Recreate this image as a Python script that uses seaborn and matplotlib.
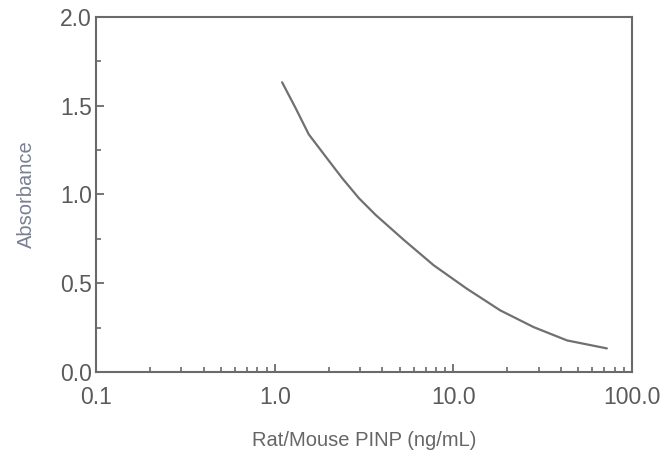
import matplotlib
matplotlib.use("Agg")
import matplotlib.pyplot as plt
import matplotlib.ticker as mticker
import seaborn as sns
import numpy as np
import pandas as pd

# standard curve
conc = [1.10, 1.31, 1.55, 1.93, 2.39, 2.96, 3.67, 5.28, 7.76, 11.9, 18.3, 28.1, 43.2, 72.2]
absorbance = [1.632, 1.486, 1.339, 1.213, 1.091, 0.979, 0.885, 0.744, 0.601, 0.469,
              0.347, 0.253, 0.178, 0.133]

x_ticks = [0.1, 1.0, 10.0, 100.0]
x_labels = ["0.1", "1.0", "10.0", "100.0"]
y_ticks = [0.0, 0.5, 1.0, 1.5, 2.0]
y_labels = ["0.0", "0.5", "1.0", "1.5", "2.0"]

df = pd.DataFrame({"conc": conc, "absorbance": absorbance})

sns.set_style("ticks")
plt.rcParams["font.family"] = ["Liberation Sans", "DejaVu Sans"]

axis_col = "#6a6a6a"
text_col = "#5a5a5a"

fig = plt.figure(figsize=(6.64, 4.54), dpi=100)
ax = fig.add_axes([0.1446, 0.1806, 0.952 - 0.1446, 0.9626 - 0.1806])

sns.lineplot(data=df, x="conc", y="absorbance", ax=ax, color="#707070", linewidth=1.6)

ax.set_xscale("log")
ax.set_xlim(0.1, 100)
ax.set_ylim(0, 2.0)

ax.set_xticks(x_ticks)
ax.set_xticklabels(x_labels)
ax.xaxis.set_minor_locator(mticker.LogLocator(base=10, subs=np.arange(2, 10)))
ax.xaxis.set_minor_formatter(mticker.NullFormatter())
ax.set_yticks(y_ticks)
ax.set_yticklabels(y_labels)
ax.yaxis.set_minor_locator(mticker.MultipleLocator(0.25))

for s in ax.spines.values():
    s.set_color(axis_col)
    s.set_linewidth(1.5)

ax.tick_params(axis="both", which="major", direction="in", length=6, width=1.3,
               color=axis_col, labelsize=16.5, labelcolor=text_col)
ax.tick_params(axis="both", which="minor", direction="in", length=3.5, width=1.2,
               color=axis_col)
ax.tick_params(axis="x", which="major", pad=10)
ax.tick_params(axis="y", which="major", pad=3)

ax.set_xlabel("Rat/Mouse PINP (ng/mL)", fontsize=14.5, color="#666666", labelpad=16)
ax.set_ylabel("Absorbance", fontsize=14.5, color="#7a8092", labelpad=17)

fig.savefig("out.png", dpi=100)
